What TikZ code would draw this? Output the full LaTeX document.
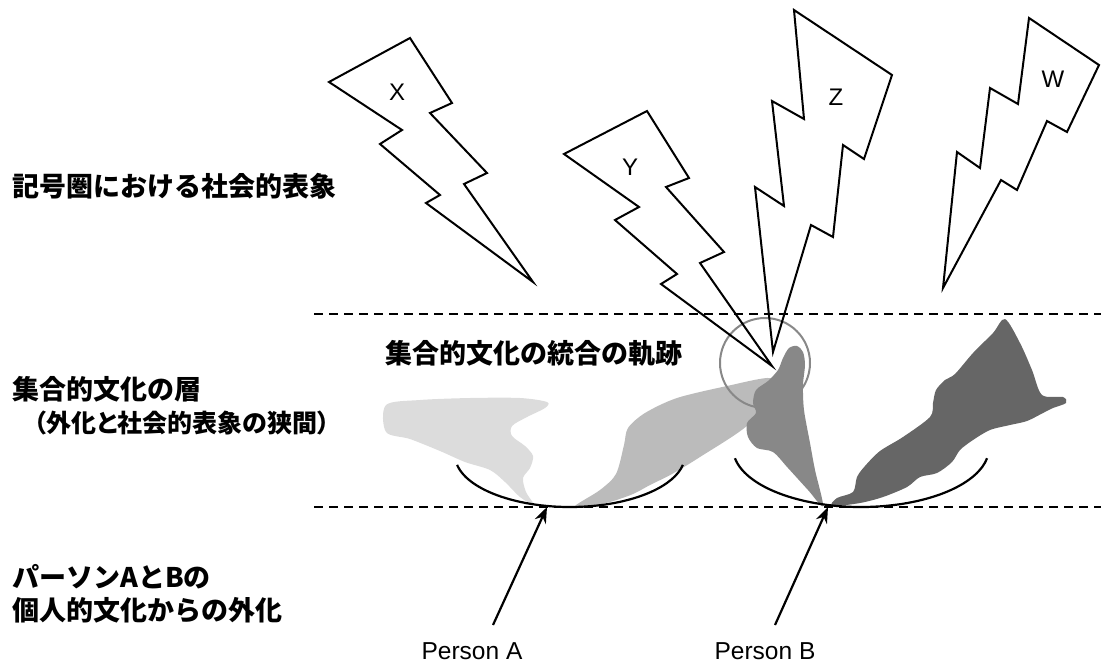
\documentclass[tikz,border=0pt]{standalone}
\usepackage{fontspec}
\setmainfont{Liberation Sans}
\newfontfamily\jpfont{Noto Sans CJK JP}
\newfontfamily\jppfont[RawFeature=+palt]{Noto Sans CJK JP}
\usetikzlibrary{arrows.meta}

\definecolor{cult_a}{HTML}{DCDCDC}
\definecolor{cult_b}{HTML}{BBBBBB}
\definecolor{cult_c}{HTML}{888888}
\definecolor{cult_d}{HTML}{666666}

\tikzstyle{layer_label} = [anchor=west, inner sep=0pt, align=left, font=\jpfont\bfseries\fontsize{27}{33}\selectfont]
\tikzstyle{person_label} = [anchor=base, inner sep=0pt, font=\fontsize{24.5}{28}\selectfont]
\tikzstyle{bolt} = [draw=black, line width=2pt, line join=miter]
\tikzstyle{bolt_label} = [inner sep=0pt, font=\fontsize{24}{28}\selectfont]
\tikzstyle{boundary} = [line width=2.5pt, dash pattern=on 9pt off 6pt]
\tikzstyle{smile} = [line width=2.2pt]
\tikzstyle{arrow} = [line width=2.2pt, -{Stealth[length=16pt, width=12pt]}]

\begin{document}
\begin{tikzpicture}[x=1pt, y=-1pt]
    \useasboundingbox (0,0) rectangle (1101,662);

    % externalised cultures
    \fill [cult_a] plot [smooth cycle, tension=0.5] coordinates {(386,405) (420,400) (470,398) (520,398) (547,402) (545,408) (527,417) (512,426) (512,436) (525,446) (533,456) (530,468) (523,478) (526,492) (534,505) (520,497) (505,482) (490,470) (465,462) (440,451) (410,439) (386,432)};
    \fill [cult_b] plot [smooth cycle, tension=0.5] coordinates {(575,506) (600,490) (616,474) (624,445) (628,428) (645,413) (677,398) (727,386) (770,378) (772,392) (748,425) (700,457) (672,474) (650,485) (633,494) (610,502) (590,506)};
    \fill [cult_c] plot [smooth cycle, tension=0.5] coordinates {(789,348) (797,346) (803,352) (805,365) (803,385) (804,410) (810,443) (815,470) (823,506) (808,490) (788,468) (773,452) (757,448) (748,437) (747,423) (756,413) (753,403) (756,390) (768,381) (778,370) (783,358)};
    \fill [cult_d] plot [smooth cycle, tension=0.5] coordinates {(1005,319) (1020,343) (1032,370) (1042,395) (1063,397) (1066,403) (1053,408) (1043,413) (1027,421) (1010,425) (990,430) (973,440) (960,450) (952,462) (937,473) (920,477) (907,487) (883,497) (860,503) (832,506) (837,498) (853,492) (857,477) (865,466) (880,451) (903,437) (930,417) (933,403) (936,390) (945,380) (955,374) (973,353) (993,333)};

    \draw [smile] (570,455) ++(169:115 and 52) arc [start angle=169, end angle=11, x radius=115, y radius=52];
    \draw [smile] (861,448) ++(170:128 and 59) arc [start angle=170, end angle=10, x radius=128, y radius=59];

    \draw [draw=cult_c, line width=2pt] (765,363) circle (45);

    % layer boundaries
    \draw [boundary] (314,314) -- (1101,314);
    \draw [boundary] (314,507) -- (1101,507);

    % social representations
    \draw [bolt] (410,38) -- (329,82) -- (402,130) -- (380,144) -- (440,195) -- (426,203) -- (533,282) -- (464,184) -- (487,173) -- (430,113) -- (452,103) -- cycle;
    \draw [bolt] (647,111) -- (564,154) -- (639,207) -- (615,220) -- (677,274) -- (661,284) -- (772,366) -- (700,263) -- (724,252) -- (666,187) -- (689,178) -- cycle;
    \draw [bolt] (794,10) -- (892,75) -- (864,159) -- (843,145) -- (833,237) -- (811,225) -- (773,352) -- (755,187) -- (784,206) -- (772,101) -- (804,119) -- cycle;
    \draw [bolt] (1029,18) -- (1099,65) -- (1067,132) -- (1047,121) -- (1017,190) -- (1001,180) -- (943,288) -- (957,152) -- (980,168) -- (990,88) -- (1018,104) -- cycle;

    \node (bolt_x) [bolt_label] at (397,92) {X};
    \node (bolt_y) [bolt_label] at (630,167) {Y};
    \node (bolt_z) [bolt_label] at (836,97) {Z};
    \node (bolt_w) [bolt_label] at (1053,79) {W};

    \node (symbols) [layer_label] at (12,186) {記号圏における社会的表象};
    \node (layer)   [layer_label] at (12,406) {集合的文化の層\\{\jppfont\bfseries\fontsize{25}{33}\selectfont\hspace*{22pt}（外化と社会的表象の狭間）}};
    \node (persons) [layer_label] at (12,594) {パーソンAとBの\\個人的文化からの外化};
    \node (trace)   [layer_label] at (385,353) {集合的文化の統合の軌跡};

    \node (person_a) [person_label] at (472,659) {Person A};
    \node (person_b) [person_label] at (765,659) {Person B};

    \coordinate (foot_a)  at (493,625);
    \coordinate (touch_a) at (547,507);
    \coordinate (foot_b)  at (775,625);
    \coordinate (touch_b) at (828,507);

    \draw [arrow] (foot_a) -- (touch_a);
    \draw [arrow] (foot_b) -- (touch_b);
\end{tikzpicture}
\end{document}
